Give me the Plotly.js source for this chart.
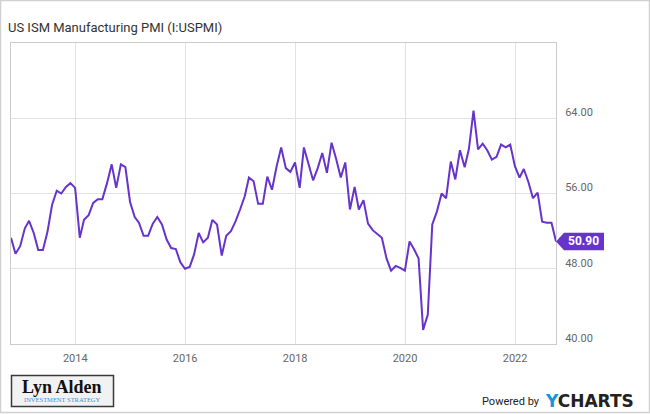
<!DOCTYPE html>
<html>
<head>
<meta charset="utf-8">
<script src="https://cdn.plot.ly/plotly-3.0.1.min.js"></script>
<style>
html,body{margin:0;padding:0;background:#fff;}
#chart{width:650px;height:414px;}
</style>
</head>
<body>
<div id="chart"></div>
<script>
// ---- data ----
const startYear = 2012;
const startMonth = 10; // first observation: Oct 2012 (monthly series)
const pmiValues = [
  51.3, 49.6, 50.4, 52.3, 53.1, 51.8, 50.0, 50.0, 51.9, 54.8, 56.3, 56.0, 56.7, 57.1, 56.6,
  51.3, 53.2, 53.7, 55.0, 55.4, 55.4, 57.1, 59.1, 56.6, 59.1, 58.8, 55.1,
  53.5, 52.9, 51.5, 51.5, 52.8, 53.5, 52.7, 51.1, 50.2, 50.1, 48.7, 48.0,
  48.2, 49.5, 51.8, 50.8, 51.3, 53.2, 52.7, 49.4, 51.5, 52.0, 53.0, 54.3,
  55.7, 57.7, 57.3, 54.9, 54.9, 57.8, 56.4, 58.9, 60.9, 58.7, 58.3, 59.3,
  56.6, 60.9, 59.2, 57.4, 58.7, 60.3, 58.2, 61.4, 59.7, 57.7, 59.3, 54.3,
  56.7, 54.3, 55.3, 52.8, 52.1, 51.7, 51.3, 49.1, 47.8, 48.3, 48.1, 47.8,
  50.9, 50.1, 49.1, 41.5, 43.1, 52.7, 54.1, 56.0, 55.5, 59.4, 57.5, 60.6,
  58.8, 60.7, 64.8, 60.7, 61.3, 60.6, 59.6, 59.9, 61.2, 60.9, 61.2, 58.9,
  57.7, 58.6, 57.2, 55.5, 56.1, 53.0, 52.9, 52.9, 50.9
];
const xTickYears = ['2014', '2016', '2018', '2020', '2022'];
const yTickValues = [40, 48, 56, 64];
const yTickLabels = ['40.00', '48.00', '56.00', '64.00'];
const titleText = 'US ISM Manufacturing PMI (I:USPMI)';

// ---- helpers ----
function monthEnd(y, m) { // m: 1..12
  return new Date(Date.UTC(y, m, 0)).toISOString().slice(0, 10);
}
const dates = pmiValues.map((v, i) => {
  const m0 = startMonth - 1 + i;
  return monthEnd(startYear + Math.floor(m0 / 12), (m0 % 12) + 1);
});
const lastValue = pmiValues[pmiValues.length - 1];

const W = 650, Hh = 414;
const M = {l: 11, r: 94, t: 43, b: 70};
const PW = W - M.l - M.r, PH = Hh - M.t - M.b;
const px = x => (x - M.l) / PW;
const py = y => (Hh - M.b - y) / PH;

const purple = '#6633cc';
const grid = '#e2e2e2';
const frame = '#cccccc';

const trace = {
  x: dates, y: pmiValues, type: 'scatter', mode: 'lines',
  line: {color: purple, width: 2},
  hoverinfo: 'skip'
};

const layout = {
  width: W, height: Hh,
  margin: M,
  paper_bgcolor: '#fff', plot_bgcolor: '#fff',
  showlegend: false,
  title: {
    text: titleText, x: 8 / W, xref: 'container', xanchor: 'left',
    y: 1 - 27 / Hh, yref: 'container', yanchor: 'middle',
    font: {family: 'Roboto', size: 13, color: '#333'}
  },
  xaxis: {
    type: 'date',
    range: [dates[0], dates[dates.length - 1]],
    tickvals: xTickYears.map(y => y + '-01-01'),
    ticktext: xTickYears,
    showgrid: true, gridcolor: grid, gridwidth: 1,
    showline: true, mirror: true, linecolor: frame, linewidth: 1,
    zeroline: false, ticks: '',
    ticklabelstandoff: 4,
    tickfont: {family: 'Roboto', size: 11, color: '#666'},
    fixedrange: true
  },
  yaxis: {
    side: 'right',
    range: [40, 72],
    tickvals: yTickValues, ticktext: yTickLabels,
    showgrid: true, gridcolor: grid, gridwidth: 1,
    showline: true, mirror: true, linecolor: frame, linewidth: 1,
    zeroline: false, ticks: '',
    ticklabelshift: -6, ticklabelstandoff: 6,
    tickfont: {family: 'Roboto', size: 11, color: '#666'},
    fixedrange: true
  },
  shapes: [
    // outer frame of the image
    {type: 'rect', xref: 'paper', yref: 'paper',
     x0: px(0.5), x1: px(649.5), y0: py(412.5), y1: py(0.5),
     line: {color: '#d0d0d0', width: 1.5}, fillcolor: 'rgba(0,0,0,0)', layer: 'below'},
    // last value tag
    {type: 'path', xref: 'paper', yref: 'y',
     xsizemode: 'pixel', ysizemode: 'pixel',
     xanchor: 1, yanchor: lastValue,
     path: 'M0,0 L8,8.7 L48,8.7 L48,-8.7 L8,-8.7 Z',
     fillcolor: purple, line: {width: 0}},
    // logo box
    {type: 'rect', xref: 'paper', yref: 'paper',
     x0: px(11.5), x1: px(113.5), y0: py(406.5), y1: py(375.5),
     line: {color: '#3a3a3a', width: 1.5}, fillcolor: '#f2f2f2'}
  ],
  annotations: [
    {xref: 'paper', yref: 'y', x: 1, y: lastValue, xanchor: 'center', yanchor: 'middle',
     xshift: 27, showarrow: false, text: '<b>' + lastValue.toFixed(2) + '</b>',
     font: {family: 'Roboto', size: 12, color: '#fff'}},
    {xref: 'paper', yref: 'paper', x: px(62), y: py(387), xanchor: 'center', yanchor: 'middle',
     showarrow: false, text: '<b>Lyn Alden</b>',
     font: {family: 'Liberation Serif', size: 18, color: '#111'}},
    {xref: 'paper', yref: 'paper', x: px(62.5), y: py(399), xanchor: 'center', yanchor: 'middle',
     showarrow: false, text: 'INVESTMENT STRATEGY',
     font: {family: 'Liberation Serif', size: 6.5, color: '#3a8fd8'}},
    {xref: 'paper', yref: 'paper', x: px(541.5), y: py(401), xanchor: 'right', yanchor: 'middle',
     showarrow: false, text: 'Powered by',
     font: {family: 'Roboto', size: 11, color: '#222'}},
    {xref: 'paper', yref: 'paper', x: px(543), y: py(400.5), xanchor: 'left', yanchor: 'middle',
     showarrow: false, text: '<span style="color:#1a8fe3">Y</span>CHARTS',
     font: {family: 'DejaVu Sans', size: 17, color: '#222', weight: 'bold'}}
  ]
};

Plotly.newPlot('chart', [trace], layout, {displayModeBar: false, staticPlot: true});
</script>
</body>
</html>
